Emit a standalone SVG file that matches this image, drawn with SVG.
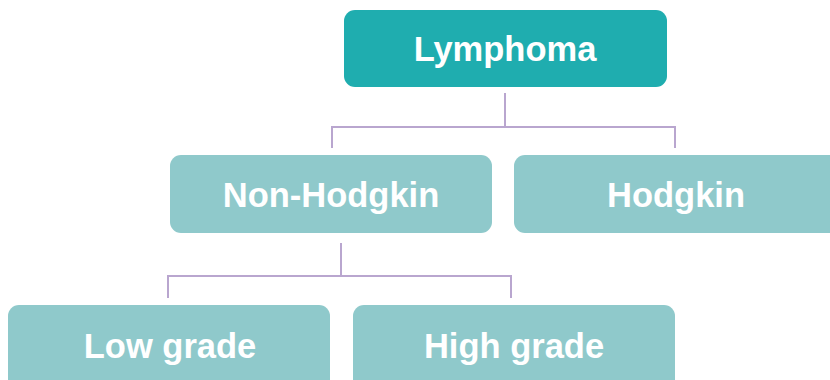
<svg xmlns="http://www.w3.org/2000/svg" width="830" height="380" viewBox="0 0 830 380">
<style>
.box{fill:#8FC9CB}
.root{fill:#1FADAF}
.t{font-family:"Liberation Sans",Arial,sans-serif;font-weight:bold;font-size:34.5px;fill:#ffffff;text-anchor:middle}
.c{fill:none;stroke:#B9A6CF;stroke-width:2}
</style>
<rect width="830" height="380" fill="#ffffff"/>
<g id="connectors">
<path class="c" d="M505 93V127M332 148V127H675V148"/>
<path class="c" d="M341 243V276M168 298V276H511V298"/>
</g>
<g id="lymphoma"><rect class="root" x="344" y="10" width="323" height="77" rx="11"/><text class="t" x="505" y="61">Lymphoma</text></g>
<g id="nonhodgkin"><rect class="box" x="170" y="155" width="322" height="78" rx="11"/><text class="t" x="331" y="207">Non-Hodgkin</text></g>
<g id="hodgkin"><rect class="box" x="514" y="155" width="328" height="78" rx="11"/><text class="t" x="676" y="207">Hodgkin</text></g>
<g id="lowgrade"><rect class="box" x="8" y="305" width="322" height="90" rx="11"/><text class="t" x="170" y="358">Low grade</text></g>
<g id="highgrade"><rect class="box" x="353" y="305" width="322" height="90" rx="11"/><text class="t" x="514" y="358">High grade</text></g>
</svg>
